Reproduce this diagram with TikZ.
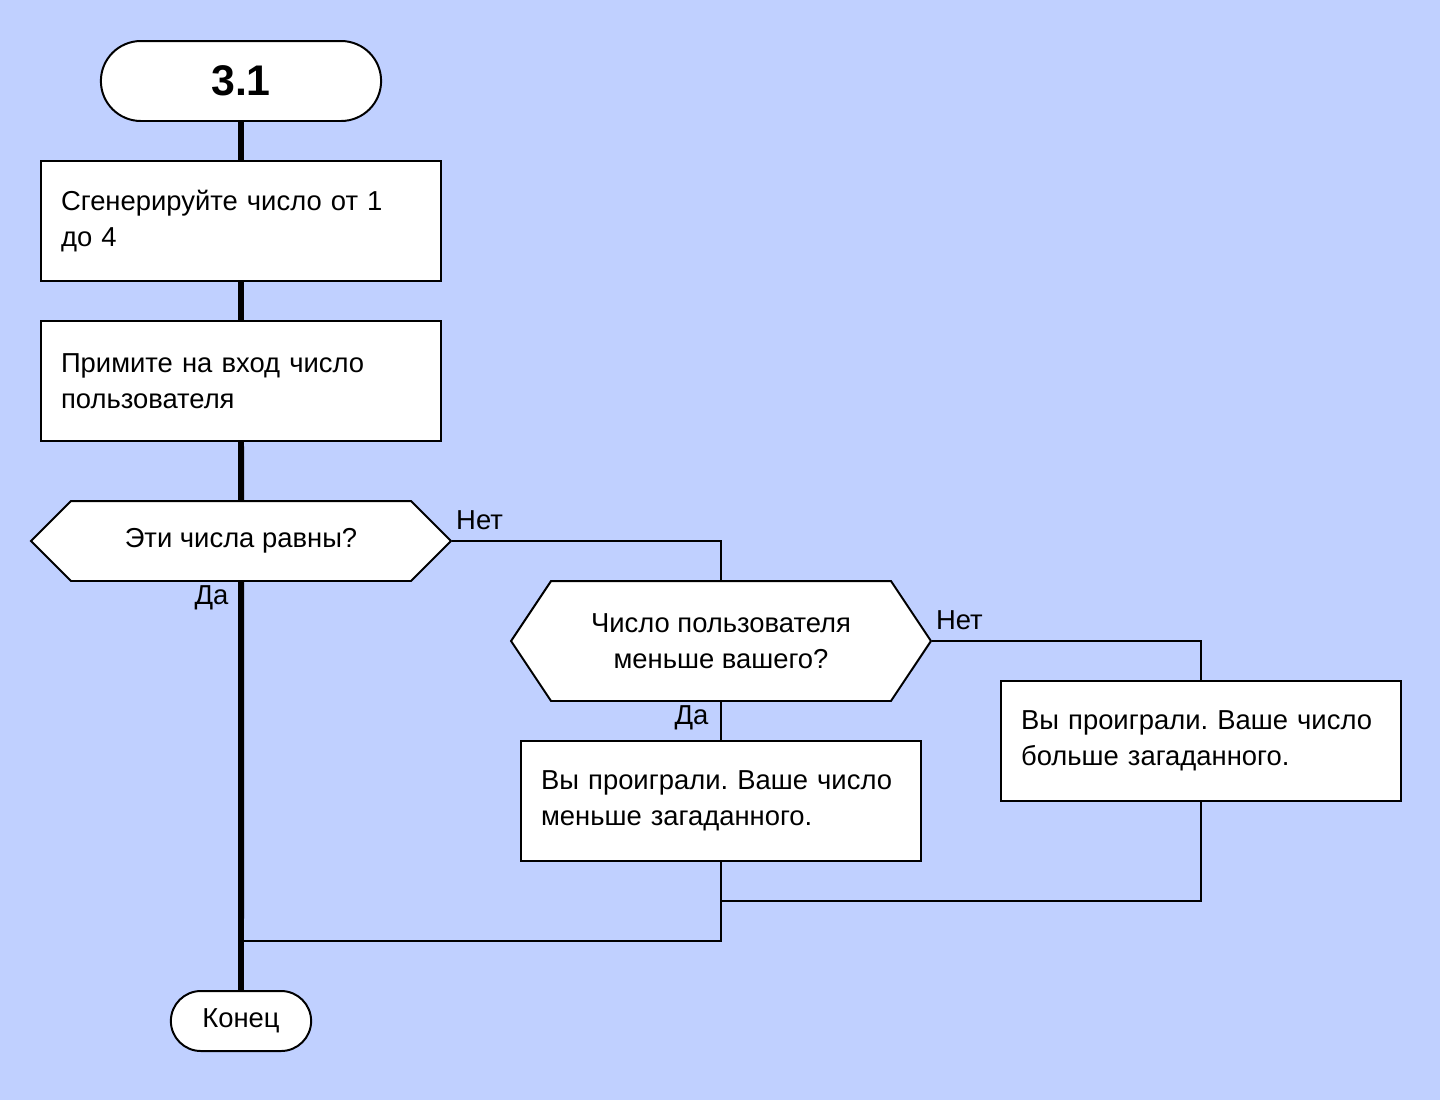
\documentclass[tikz,border=0pt]{standalone}
\usepackage{fontspec}
\setmainfont{Liberation Sans}
\frenchspacing
\usetikzlibrary{shapes.misc,shapes.symbols}
\definecolor{bgblue}{HTML}{C0D0FF}
\tikzset{
  terminal/.style={rounded rectangle, draw, fill=white, line width=1.13pt,
    font=\fontsize{15.6}{20.4}\selectfont},
  process/.style={rectangle, draw, fill=white, line width=1.13pt,
    minimum width=8cm, minimum height=2.4cm, text width=7.2cm,
    inner xsep=0.4cm, align=left, font=\fontsize{15.6}{20.4}\selectfont},
  decision/.style={signal, signal to={west and east}, draw, fill=white,
    line width=1.13pt, align=center, inner sep=0pt,
    font=\fontsize{15.6}{20.4}\selectfont},
  mainline/.style={line width=3.4pt},
  branch/.style={line width=1.13pt},
  answer/.style={font=\fontsize{15.6}{20.4}\selectfont, inner sep=2pt}
}
\begin{document}
\begin{tikzpicture}[x=0.02cm, y=-0.02cm]
  % background
  \fill[bgblue] (0,0) rectangle (1440,1100);
  \useasboundingbox (0,0) rectangle (1440,1100);
  % main column
  \node[terminal, minimum width=5.84cm, minimum height=1.6cm,
    font=\fontsize{24.4}{28}\selectfont\bfseries] (start) at (241,81) {3.1};
  \node[process] (gen) at (241,221) {Сгенерируйте число от 1\\до 4};
  \node[process] (inp) at (241,381) {Примите на вход число\\пользователя};
  \node[decision, minimum width=8.4cm, minimum height=1.6cm,
    signal pointer angle=90] (equal) at (241,541) {Эти числа равны?};
  \node[terminal, minimum width=3.04cm, minimum height=1.2cm] (finish) at (241,1021) {Конец};
  % right branch
  \node[decision, minimum width=8.4cm, minimum height=2.4cm,
    signal pointer angle=112.6] (less) at (721,641) {Число пользователя\\меньше вашего?};
  \node[process] (loselow) at (721,801) {Вы проиграли. Ваше число\\меньше загаданного.};
  \node[process] (losehigh) at (1201,741) {Вы проиграли. Ваше число\\больше загаданного.};
  % thick flow
  \draw[mainline] (start) -- (gen);
  \draw[mainline] (gen) -- (inp);
  \draw[mainline] (inp) -- (equal);
  \draw[mainline] (equal) -- (finish);
  % branches
  \draw[branch] (equal.east) -| (less.north);
  \draw[branch] (less.east) -| (losehigh.north);
  \draw[branch] (less.south) -- (loselow.north);
  % joins
  \coordinate (joinhigh) at (721,901);
  \coordinate (joinlow) at (241,941);
  \draw[branch] (losehigh.south) |- (joinhigh);
  \draw[branch] (loselow.south) |- (joinlow);
  % labels
  \node[answer, anchor=south west, yshift=4pt] (no1) at (equal.east) {Нет};
  \node[answer, anchor=north east, xshift=-5pt] (yes1) at (equal.south) {Да};
  \node[answer, anchor=south west, yshift=4pt] (no2) at (less.east) {Нет};
  \node[answer, anchor=north east, xshift=-5pt] (yes2) at (less.south) {Да};
\end{tikzpicture}
\end{document}
